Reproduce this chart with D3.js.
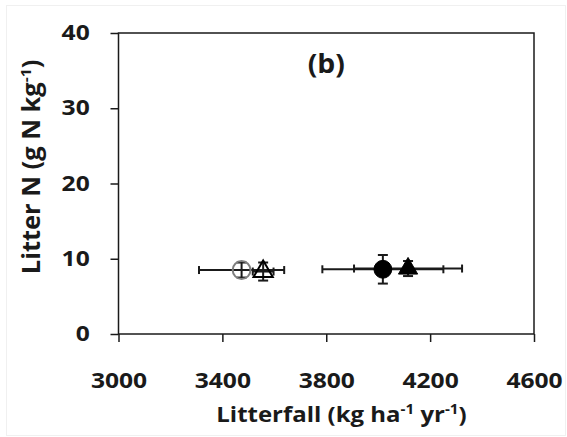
<!DOCTYPE html>
<html>
<head>
<meta charset="utf-8">
<script src="https://cdn.jsdelivr.net/npm/d3@7"></script>
<style>
  body { margin: 0; background: #fff; }
  text { font-family: "Open Sans", Lato, sans-serif; font-weight: bold; fill: #1a1a1a; }
</style>
</head>
<body>
<div id="chart"></div>
<script>
const width = 567,
  height = 437,
  margin = { top: 33, right: 33, bottom: 103, left: 118.5 };

// groups (open = one treatment, filled = the other; circle / triangle = site)
const groups = ["open circle", "open triangle", "filled circle", "filled triangle"];
const litterfall = [3474, 3557, 4018, 4115];
const litterfallErr = [164, 40, 233, 208];
const litterN = [8.5, 8.3, 8.6, 8.7];
const litterNErr = [1.0, 1.2, 1.9, 1.0];

const xTicks = [3000, 3400, 3800, 4200, 4600];
const yTicks = [0, 10, 20, 30, 40];

const data = groups.map((g, i) => ({
  group: g,
  x: litterfall[i], xe: litterfallErr[i],
  y: litterN[i], ye: litterNErr[i]
}));

// the source text is a little wider than Open Sans
const stretch = 1.2;

const svg = d3.select("#chart")
  .append("svg")
  .attr("width", width)
  .attr("height", height);

// faint outer frame
svg.append("rect")
  .attr("x", 6.5).attr("y", 5.5)
  .attr("width", width - 8).attr("height", height - 7)
  .attr("fill", "none")
  .attr("stroke", "#f0f0f0");

const innerW = width - margin.left - margin.right,
  innerH = height - margin.top - margin.bottom;

const g = svg.append("g")
  .attr("transform", "translate(" + margin.left + "," + margin.top + ")");

const xScale = d3.scaleLinear().domain([3000, 4600]).range([0, innerW]);
const yScale = d3.scaleLinear().domain([0, 40]).range([innerH, 0]);

// plot box
g.append("rect")
  .attr("width", innerW).attr("height", innerH)
  .attr("fill", "none")
  .attr("stroke", "#1a1a1a")
  .attr("stroke-width", 1.5);

const xAxis = g.append("g")
  .attr("transform", "translate(0," + innerH + ")")
  .call(d3.axisBottom(xScale).tickValues(xTicks).tickSize(8).tickPadding(31).tickFormat(d3.format("d")));

const yAxis = g.append("g")
  .call(d3.axisLeft(yScale).tickValues(yTicks).tickSize(8).tickPadding(16));

[xAxis, yAxis].forEach(ax => {
  ax.select(".domain").remove();
  ax.selectAll("line").attr("stroke", "#1a1a1a").attr("stroke-width", 1.5);
  ax.selectAll("text")
    .style("font-size", "20.5px")
    .attr("fill", "#1a1a1a")
    .attr("transform", "scale(" + stretch + ",1)");
});
// ticks cross the axis line
xAxis.selectAll("line").attr("y1", 0);
yAxis.selectAll("line").attr("x1", 0);

// axis titles
const xt = svg.append("text")
  .attr("transform", "translate(341.5,422) scale(1.09,1)")
  .attr("text-anchor", "middle")
  .style("font-size", "22px");
xt.append("tspan").text("Litterfall (kg ha");
xt.append("tspan").attr("dy", -8).style("font-size", "14px").text("-1");
xt.append("tspan").attr("dy", 8).text(" yr");
xt.append("tspan").attr("dy", -8).style("font-size", "14px").text("-1");
xt.append("tspan").attr("dy", 8).text(")");

const yt = svg.append("text")
  .attr("transform", "translate(40,167) rotate(-90) scale(1.04,1)")
  .attr("text-anchor", "middle")
  .style("font-size", "24.5px");
yt.append("tspan").text("Litter N (g N kg");
yt.append("tspan").attr("dy", -9).style("font-size", "15px").text("-1");
yt.append("tspan").attr("dy", 9).text(")");

// panel label
g.append("text")
  .attr("transform", "translate(" + xScale(3800) + ",40) scale(1.05,1)")
  .attr("text-anchor", "middle")
  .style("font-size", "27px")
  .text("(b)");

// error bars
const bars = g.append("g")
  .attr("stroke", "#1a1a1a")
  .attr("stroke-width", 2)
  .attr("fill", "none");

data.forEach(d => {
  const cx = xScale(d.x), cy = yScale(d.y);
  const x0 = xScale(d.x - d.xe), x1 = xScale(d.x + d.xe);
  const y0 = yScale(d.y - d.ye), y1 = yScale(d.y + d.ye);
  bars.append("line").attr("x1", x0).attr("x2", x1).attr("y1", cy).attr("y2", cy);
  bars.append("line").attr("x1", x0).attr("x2", x0).attr("y1", cy - 4).attr("y2", cy + 4);
  bars.append("line").attr("x1", x1).attr("x2", x1).attr("y1", cy - 4).attr("y2", cy + 4);
  bars.append("line").attr("x1", cx).attr("x2", cx).attr("y1", y0).attr("y2", y1);
  bars.append("line").attr("x1", cx - 5).attr("x2", cx + 5).attr("y1", y0).attr("y2", y0);
  bars.append("line").attr("x1", cx - 5).attr("x2", cx + 5).attr("y1", y1).attr("y2", y1);
});

// markers
const shape = d => d.group.includes("circle") ? d3.symbolCircle : d3.symbolTriangle;
const size = d => d.group.includes("circle") ? 250 : 160;

g.selectAll("path.mark")
  .data(data)
  .enter()
  .append("path")
  .attr("class", "mark")
  .attr("transform", d => "translate(" + xScale(d.x) + "," + yScale(d.y) + ")")
  .attr("d", d => d3.symbol().type(shape(d)).size(size(d))())
  .attr("fill", d => d.group.startsWith("filled") ? "#000" : "none")
  .attr("stroke", d => d.group === "open circle" ? "#7f7f7f" : "#000")
  .attr("stroke-width", d => d.group.startsWith("open") ? 2 : 1);
</script>
</body>
</html>
